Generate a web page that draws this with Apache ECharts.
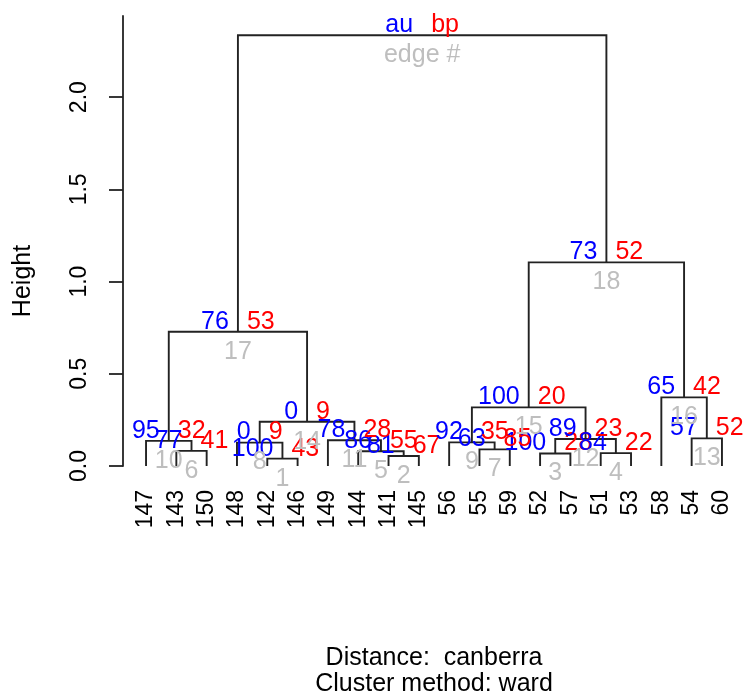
<!DOCTYPE html>
<html>
<head>
<meta charset="utf-8">
<script src="https://cdn.jsdelivr.net/npm/echarts@6/dist/echarts.min.js"></script>
<style>
  html, body { margin: 0; padding: 0; background: #fff; }
  #chart { width: 745px; height: 695px; }
</style>
</head>
<body>
<div id="chart"></div>
<script>
// leaves in plotted order
var leafLabels = ['147', '143', '150', '148', '142', '146', '149', '144', '141', '145',
                  '56', '55', '59', '52', '57', '51', '53', '58', '54', '60'];
// hclust style merges: negative = leaf position, positive = earlier edge #
var mergeLeft   = [-5, -9, -14, -16, -8, -2, -12, -4, -11, -1, -7, 3, -19, 8, 9, -18, 10, 15, 17];
var mergeRight  = [-6, -10, -15, -17, 2, -3, -13, 1, 7, 6, 5, 4, -20, 11, 12, 13, 14, 16, 18];
var mergeHeight = [0.040, 0.054, 0.068, 0.070, 0.080, 0.082, 0.090, 0.127, 0.128, 0.136,
                   0.140, 0.146, 0.150, 0.240, 0.318, 0.372, 0.728, 1.104, 2.336];
var auValues = ['100', '81', '100', '84', '86', '77', '63', '0', '92', '95',
                '78', '89', '57', '0', '100', '65', '76', '73', 'au'];
var bpValues = ['43', '67', '28', '22', '55', '41', '85', '9', '35', '32',
                '28', '23', '52', '9', '20', '42', '53', '52', 'bp'];
var edgeLabels = ['1', '2', '3', '4', '5', '6', '7', '8', '9', '10',
                  '11', '12', '13', '14', '15', '16', '17', '18', 'edge #'];
var yTicks = [0, 0.5, 1, 1.5, 2];

var FONT = 'Liberation Sans';

// node x = mean of children x (like hc2axes)
var nodeX = [];
function childX(c) { return c < 0 ? -c : nodeX[c - 1]; }
function childH(c) { return c < 0 ? 0 : mergeHeight[c - 1]; }
for (var i = 0; i < mergeHeight.length; i++) {
  nodeX.push((childX(mergeLeft[i]) + childX(mergeRight[i])) / 2);
}
var nodeData = mergeHeight.map(function (h, i) { return [nodeX[i], h, i]; });
var leafPos = leafLabels.map(function (l, i) { return i + 1; });

function renderTree(params, api) {
  var i = api.value(2);
  var l = mergeLeft[i], r = mergeRight[i];
  var pts = [
    api.coord([childX(l), childH(l)]),
    api.coord([childX(l), mergeHeight[i]]),
    api.coord([childX(r), mergeHeight[i]]),
    api.coord([childX(r), childH(r)])
  ];
  return {
    type: 'polyline',
    shape: { points: pts },
    style: { stroke: '#222', lineWidth: 1.9, fill: null }
  };
}

function renderPv(params, api) {
  var i = api.value(2);
  var p = api.coord([nodeX[i], mergeHeight[i]]);
  function txt(s, x, y, color, align) {
    return {
      type: 'text', x: x, y: y,
      style: { text: s, fill: color, fontSize: 25, fontFamily: FONT, align: align, verticalAlign: 'middle' }
    };
  }
  return {
    type: 'group',
    children: [
      txt(auValues[i], p[0] - 9, p[1] - 10, '#0000ff', 'right'),
      txt(bpValues[i], p[0] + 9, p[1] - 10, '#ff0000', 'left'),
      txt(edgeLabels[i], p[0], p[1] + 20, '#bebebe', 'center')
    ]
  };
}

var chart = echarts.init(document.getElementById('chart'));
chart.setOption({
  animation: false,
  backgroundColor: '#fff',
  grid: { left: 123, right: 0, top: 16, bottom: 229 },
  xAxis: {
    type: 'value', min: 0.24, max: 20.76,
    axisLine: { show: false },
    axisTick: { show: false },
    splitLine: { show: false },
    axisLabel: {
      customValues: leafPos,
      rotate: 90, margin: 24,
      fontSize: 23, fontFamily: FONT, color: '#000',
      formatter: function (v) { return leafLabels[Math.round(v) - 1]; }
    }
  },
  yAxis: {
    type: 'value', min: 0, max: 2.44,
    splitLine: { show: false },
    axisLine: { show: true, lineStyle: { color: '#222', width: 1.8 } },
    axisTick: { show: true, length: 14, customValues: yTicks, lineStyle: { color: '#222', width: 1.8 } },
    axisLabel: {
      customValues: yTicks,
      rotate: 90, margin: 32,
      fontSize: 23, fontFamily: FONT, color: '#000',
      formatter: function (v) { return v.toFixed(1); }
    }
  },
  graphic: [
    { type: 'text', x: 23, y: 281, rotation: Math.PI / 2,
      style: { text: 'Height', fontSize: 25, fontFamily: FONT, fill: '#000', align: 'center', verticalAlign: 'middle' } },
    { type: 'text', x: 434, y: 658,
      style: { text: 'Distance:  canberra', fontSize: 25, fontFamily: FONT, fill: '#000', align: 'center', verticalAlign: 'middle' } },
    { type: 'text', x: 434, y: 684,
      style: { text: 'Cluster method: ward', fontSize: 25, fontFamily: FONT, fill: '#000', align: 'center', verticalAlign: 'middle' } }
  ],
  series: [
    { type: 'custom', coordinateSystem: 'cartesian2d', data: nodeData,
      encode: { x: 0, y: 1 }, renderItem: renderTree, silent: true, z: 2 },
    { type: 'custom', coordinateSystem: 'cartesian2d', data: nodeData,
      encode: { x: 0, y: 1 }, renderItem: renderPv, silent: true, z: 3 }
  ]
});
</script>
</body>
</html>
